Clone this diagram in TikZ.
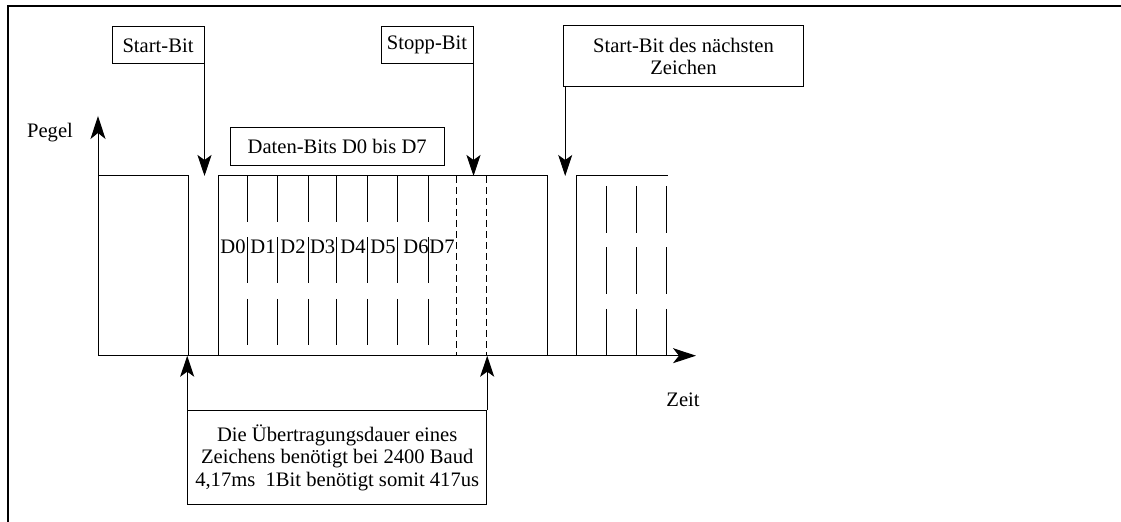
\documentclass[tikz,border=0pt]{standalone}
\usepackage{fontspec}
\setmainfont{Liberation Serif}
\usetikzlibrary{arrows.meta,positioning,calc}

\tikzset{
  lbl/.style={draw, line width=0.5pt, inner sep=0pt, align=center},
  pfeil/.style={line width=0.5pt, -{Stealth[length=10.5pt,width=7pt,inset=2.5pt]}},
  achse/.style={line width=0.5pt, -{Stealth[length=11.5pt,width=7.5pt,inset=3pt]}},
  pegel/.style={line width=0.5pt},
  trenn/.style={line width=0.5pt, dash pattern=on 23pt off 7.75pt},
  trennb/.style={line width=0.5pt, dash pattern=on 23.4pt off 7.3pt},
  stopp/.style={line width=0.5pt, dash pattern=on 3.5pt off 2pt}
}

\begin{document}
\begin{tikzpicture}[x=0.5pt, y=-0.5pt, font=\fontsize{10.3}{11.2}\selectfont]
    \useasboundingbox (0,0) rectangle (1121,522);

    % Frame
    \draw[line width=1.25pt] (1121,6) -- (8,6) -- (8,522);

    % Axes
    \coordinate (o) at (98,355.7);
    \coordinate (ytip) at (98,116);
    \coordinate (xtip) at (696,355.7);
    \coordinate (hoch) at (0,176);
    \draw[achse] (o) -- (ytip);
    \draw[achse] (o) -- (xtip);
    \node (pegel) at (50,133) {Pegel};
    \node (zeit) at (683,400) {Zeit};

    % Signal
    \draw[pegel] (98,355.7) -- (98,176) -- (188,176) -- (188,355.7);
    \draw[pegel] (218,355.7) -- (218,176) -- (547,176) -- (547,355.7);
    \draw[pegel] (576,355.7) -- (576,176) -- (668,176);

    % Data bit boundaries and labels
    \foreach \x in {247,277,308,336,367,397,428}
        \draw[trenn] (\x,176) -- (\x,345);
    \foreach \x/\bit in {233/0,263/1,293/2,322.7/3,353/4,383/5,416/6,442/7}
        \node (d\bit) at (\x,246.7) {D\bit};

    % Stop bit
    \foreach \x in {456.7,486}
        \draw[stopp] (\x,176) -- (\x,355.7);

    % Next character
    \foreach \x in {606,636,666}
        \draw[trennb] (\x,186) -- (\x,355.7);

    % Labels above
    \node[lbl, minimum width=46pt, minimum height=18.5pt] (startbit) at (158,45.5) {Start-Bit};
    \node[lbl, minimum width=46pt, minimum height=18.7pt] (stoppbit) at (427,45.3) {Stopp-Bit};
    \node[lbl, minimum width=107.2pt, minimum height=18.8pt] (daten) at (337.2,146.5) {Daten-Bits D0 bis D7};
    \node[lbl, minimum width=119.8pt, minimum height=30.3pt] (naechst) at (683.5,56.3)
        {Start-Bit des nächsten\\Zeichen};

    \draw[pfeil] (startbit.south east) -- (startbit.south east |- hoch);
    \draw[pfeil] (stoppbit.south east) -- (stoppbit.south east |- hoch);
    \draw[pfeil] ($(naechst.south west)+(2,0)$) -- ($(naechst.south west |- hoch)+(2,0)$);

    % Duration
    \node[lbl, minimum width=149.5pt, minimum height=47.2pt] (dauer) at (337.2,457.8)
        {Die Übertragungsdauer eines\\Zeichens benötigt bei 2400 Baud\\4,17ms\ \ 1Bit benötigt somit 417us};
    \draw[pfeil] (dauer.north west) -- (dauer.north west |- o);
    \draw[pfeil] (dauer.north east) -- (dauer.north east |- o);
\end{tikzpicture}
\end{document}
